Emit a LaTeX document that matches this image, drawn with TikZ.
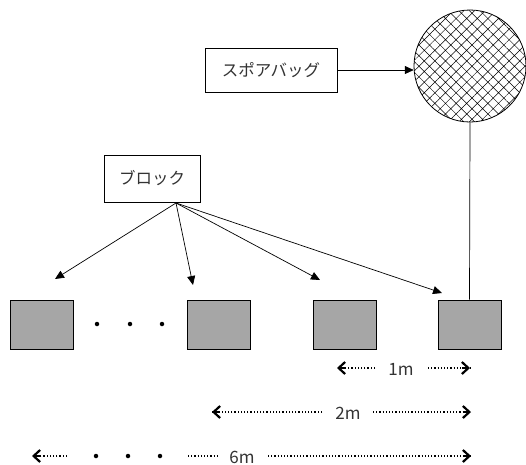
\documentclass[tikz,border=0pt]{standalone}
\usepackage{fontspec}
\setmainfont{Noto Sans CJK JP}
\usetikzlibrary{arrows.meta,patterns.meta}
\begin{document}
\begin{tikzpicture}[x=1pt,y=-1pt,
  blockbox/.style={draw,line width=0.8pt,fill=black!35,minimum width=63pt,minimum height=49pt,inner sep=0pt},
  labelbox/.style={draw,line width=0.6pt,inner sep=0pt,font=\fontsize{16.5pt}{19pt}\selectfont},
  arr/.style={line width=0.7pt,-{Triangle[length=9pt,width=8pt]}},
  dim/.style={line width=1.2pt,dotted},
  dimtip/.style={line width=1.2pt,-{Straight Barb[length=6.5pt,width=12pt,line width=2.2pt]}},
  dot/.style={circle,fill=black,inner sep=0pt,minimum size=4.5pt},
  dimlabel/.style={font=\fontsize{17pt}{19pt}\selectfont,inner sep=0pt,text=black!80}]
\useasboundingbox (0,0) rectangle (526,464);
% squares
\node[blockbox] (s1) at (41.5,324.5) {};
\node[blockbox] (s2) at (218.5,324.5) {};
\node[blockbox] (s3) at (344.5,324.5) {};
\node[blockbox] (s4) at (469.5,324.5) {};
\node[dot] (d1) at (97,324) {};
\node[dot] (d2) at (130,324) {};
\node[dot] (d3) at (162,324) {};
% spore bag
\node[circle,draw,line width=0.8pt,minimum size=112pt,inner sep=0pt,
  pattern={Hatch[angle=45,distance=7.5pt,line width=0.5pt]}] (bag) at (470,66) {};
\draw[line width=0.7pt] (bag.south) -- (s4.north);
\node[labelbox,minimum width=132pt,minimum height=44pt,text=black!80] (spb) at (271,70) {スポアバッグ};
\draw[arr] (spb.east) -- (spb.east -| bag.west);
% block
\node[labelbox,minimum width=96pt,minimum height=47pt,text=black!80] (blk) at (152,178.5) {ブロック};
\coordinate (bo) at (176,203);
\coordinate (t1) at (55,279);
\coordinate (t2) at (193,285);
\coordinate (t3) at (320,280);
\coordinate (t4) at (442,293);
\draw[arr] (bo) -- (t1);
\draw[arr] (bo) -- (t2);
\draw[arr] (bo) -- (t3);
\draw[arr] (bo) -- (t4);
% dimension 1m
\node[dimlabel] (m1) at (401,369) {1m};
\coordinate (a1l) at (337,368);
\coordinate (a1r) at (470,368);
\draw[dim] (375,368) -- (a1l);
\draw[dimtip] (345,368) -- (a1l);
\draw[dim] (428,368) -- (a1r);
\draw[dimtip] (462,368) -- (a1r);
% dimension 2m
\node[dimlabel] (m2) at (348,413) {2m};
\coordinate (a2l) at (212,412);
\coordinate (a2r) at (471,412);
\draw[dim] (322,412) -- (a2l);
\draw[dimtip] (220,412) -- (a2l);
\draw[dim] (373,412) -- (a2r);
\draw[dimtip] (463,412) -- (a2r);
% dimension 6m
\node[dimlabel] (m6) at (242,457) {6m};
\coordinate (a6l) at (32,456);
\coordinate (a6r) at (471,456);
\node[dot] (e1) at (96,456) {};
\node[dot] (e2) at (128,456) {};
\node[dot] (e3) at (160,456) {};
\draw[dim] (67,456) -- (a6l);
\draw[dimtip] (40,456) -- (a6l);
\draw[dim] (188,456) -- (217,456);
\draw[dim] (268,456) -- (a6r);
\draw[dimtip] (463,456) -- (a6r);
\end{tikzpicture}
\end{document}
